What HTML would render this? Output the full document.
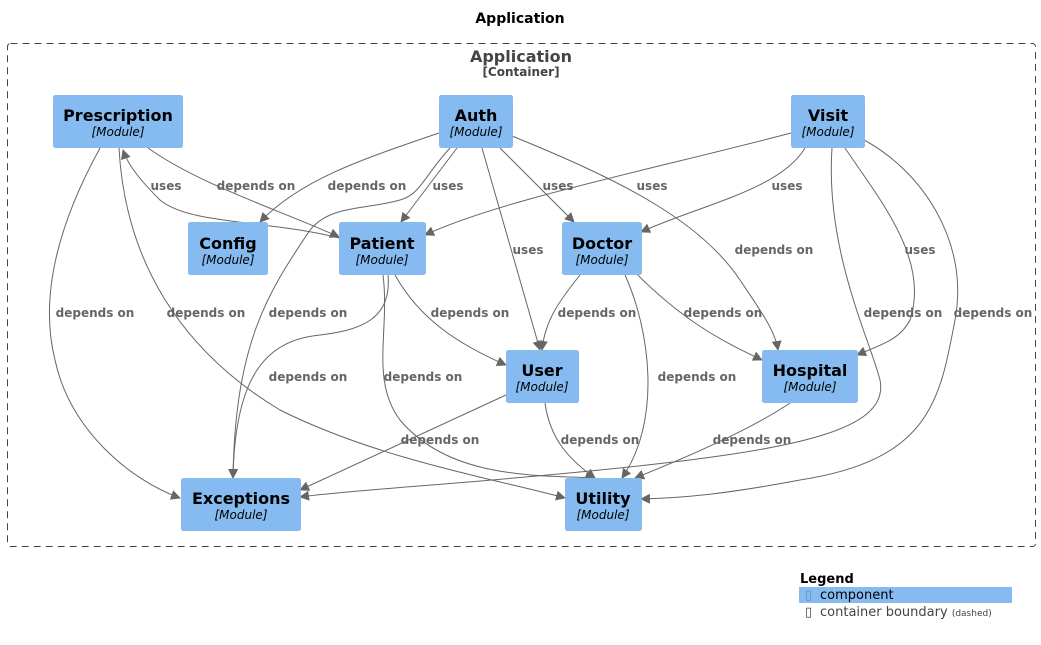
<!DOCTYPE html>
<html><head><meta charset="utf-8"><style>
body{margin:0;background:#fff;}
svg{display:block;font-family:"DejaVu Sans","Liberation Sans",sans-serif;}
.l{font-size:12px;font-weight:bold;fill:#666;}
.n{fill:#85bbf0;}
.t{font-size:16px;font-weight:bold;fill:#000;text-anchor:middle;}
.s{font-size:12px;font-style:italic;fill:#000;text-anchor:middle;}
path.e{fill:none;stroke:#666;stroke-width:1;marker-end:url(#a);}
</style></head><body>
<svg width="1041" height="645" viewBox="0 0 1041 645">
<defs><marker id="a" viewBox="0 0 10 10" refX="9" refY="5" markerWidth="10" markerHeight="10" markerUnits="userSpaceOnUse" orient="auto"><path d="M0,0 L10,5 L0,10 z" fill="#666"/></marker></defs>
<text x="520" y="23" text-anchor="middle" font-size="14" font-weight="bold">Application</text>
<rect x="7.5" y="43.5" width="1028" height="503" rx="3" fill="none" stroke="#444" stroke-dasharray="7,5"/>
<text x="521" y="62" text-anchor="middle" font-size="16" font-weight="bold" fill="#444">Application</text>
<text x="521" y="76" text-anchor="middle" font-size="12" font-weight="bold" fill="#444">[Container]</text>

<path class="e" d="M100,148 C55,230 40,300 55,360 C70,430 130,480 180,498"/>
<path class="e" d="M119,148 C125,260 180,350 280,410 C380,460 500,480 565,498"/>
<path class="e" d="M339,238 C270,220 190,225 160,200 C140,180 128,165 123,150"/>
<path class="e" d="M148,148 C200,185 280,210 339,237"/>
<path class="e" d="M439,133 C360,160 300,180 260,222"/>
<path class="e" d="M450,148 C425,175 420,195 400,200 C365,210 330,205 310,230 C270,290 235,340 233,478"/>
<path class="e" d="M457,148 L401,222"/>
<path class="e" d="M482,148 L540,350"/>
<path class="e" d="M500,148 L574,222"/>
<path class="e" d="M512,136 C620,180 700,220 740,280 C760,310 775,330 778,350"/>
<path class="e" d="M791,133 C650,170 500,200 425,235"/>
<path class="e" d="M805,148 C780,190 700,205 641,232"/>
<path class="e" d="M845,148 C880,200 930,260 910,320 C900,340 880,345 857,355"/>
<path class="e" d="M832,148 C825,250 870,340 880,380 C890,430 800,450 600,470 C450,485 350,490 300,497"/>
<path class="e" d="M864,140 C920,170 970,240 955,320 C940,400 930,460 800,480 C720,495 680,498 641,499"/>
<path class="e" d="M388,275 C392,320 360,330 320,335 C270,340 235,370 233,478"/>
<path class="e" d="M383,275 C390,330 370,380 400,420 C450,480 540,475 595,478"/>
<path class="e" d="M395,275 C420,320 460,345 506,365"/>
<path class="e" d="M580,275 C560,300 545,320 542,350"/>
<path class="e" d="M625,275 C650,330 662,420 622,478"/>
<path class="e" d="M625,262 C680,320 720,340 762,360"/>
<path class="e" d="M506,395 L300,490"/>
<path class="e" d="M545,403 C550,440 570,460 595,478"/>
<path class="e" d="M790,403 C750,430 680,460 635,478"/>

<g class="l">
<text x="166" y="190" text-anchor="middle">uses</text>
<text x="256" y="190" text-anchor="middle">depends on</text>
<text x="367" y="190" text-anchor="middle">depends on</text>
<text x="448" y="190" text-anchor="middle">uses</text>
<text x="558" y="190" text-anchor="middle">uses</text>
<text x="652" y="190" text-anchor="middle">uses</text>
<text x="787" y="190" text-anchor="middle">uses</text>
<text x="528" y="254" text-anchor="middle">uses</text>
<text x="774" y="254" text-anchor="middle">depends on</text>
<text x="920" y="254" text-anchor="middle">uses</text>
<text x="95" y="317" text-anchor="middle">depends on</text>
<text x="206" y="317" text-anchor="middle">depends on</text>
<text x="308" y="317" text-anchor="middle">depends on</text>
<text x="470" y="317" text-anchor="middle">depends on</text>
<text x="597" y="317" text-anchor="middle">depends on</text>
<text x="723" y="317" text-anchor="middle">depends on</text>
<text x="903" y="317" text-anchor="middle">depends on</text>
<text x="993" y="317" text-anchor="middle">depends on</text>
<text x="308" y="381" text-anchor="middle">depends on</text>
<text x="423" y="381" text-anchor="middle">depends on</text>
<text x="697" y="381" text-anchor="middle">depends on</text>
<text x="440" y="444" text-anchor="middle">depends on</text>
<text x="600" y="444" text-anchor="middle">depends on</text>
<text x="752" y="444" text-anchor="middle">depends on</text>
</g>

<g>
<rect class="n" x="53" y="95" width="130" height="53" rx="2.5"/><text class="t" x="118" y="121">Prescription</text><text class="s" x="118" y="136">[Module]</text>
<rect class="n" x="439" y="95" width="74" height="53" rx="2.5"/><text class="t" x="476" y="121">Auth</text><text class="s" x="476" y="136">[Module]</text>
<rect class="n" x="791" y="95" width="74" height="53" rx="2.5"/><text class="t" x="828" y="121">Visit</text><text class="s" x="828" y="136">[Module]</text>
<rect class="n" x="188" y="222" width="80" height="53" rx="2.5"/><text class="t" x="228" y="249">Config</text><text class="s" x="228" y="264">[Module]</text>
<rect class="n" x="339" y="222" width="87" height="53" rx="2.5"/><text class="t" x="382" y="249">Patient</text><text class="s" x="382" y="264">[Module]</text>
<rect class="n" x="562" y="222" width="80" height="53" rx="2.5"/><text class="t" x="602" y="249">Doctor</text><text class="s" x="602" y="264">[Module]</text>
<rect class="n" x="506" y="350" width="73" height="53" rx="2.5"/><text class="t" x="542" y="376">User</text><text class="s" x="542" y="391">[Module]</text>
<rect class="n" x="762" y="350" width="96" height="53" rx="2.5"/><text class="t" x="810" y="376">Hospital</text><text class="s" x="810" y="391">[Module]</text>
<rect class="n" x="181" y="478" width="120" height="53" rx="2.5"/><text class="t" x="241" y="504">Exceptions</text><text class="s" x="241" y="519">[Module]</text>
<rect class="n" x="565" y="478" width="77" height="53" rx="2.5"/><text class="t" x="603" y="504">Utility</text><text class="s" x="603" y="519">[Module]</text>
</g>

<text x="800" y="583" font-size="13" font-weight="bold">Legend</text>
<rect x="799" y="587" width="213" height="16" fill="#85bbf0"/>
<text x="805" y="599" font-size="13" fill="#6a8cb0">▯</text>
<text x="820" y="599" font-size="13" fill="#000">component</text>
<text x="805" y="616" font-size="13" fill="#444">▯</text>
<text x="820" y="616" font-size="13" fill="#444">container boundary <tspan font-size="9">(dashed)</tspan></text>
</svg>
</body></html>
